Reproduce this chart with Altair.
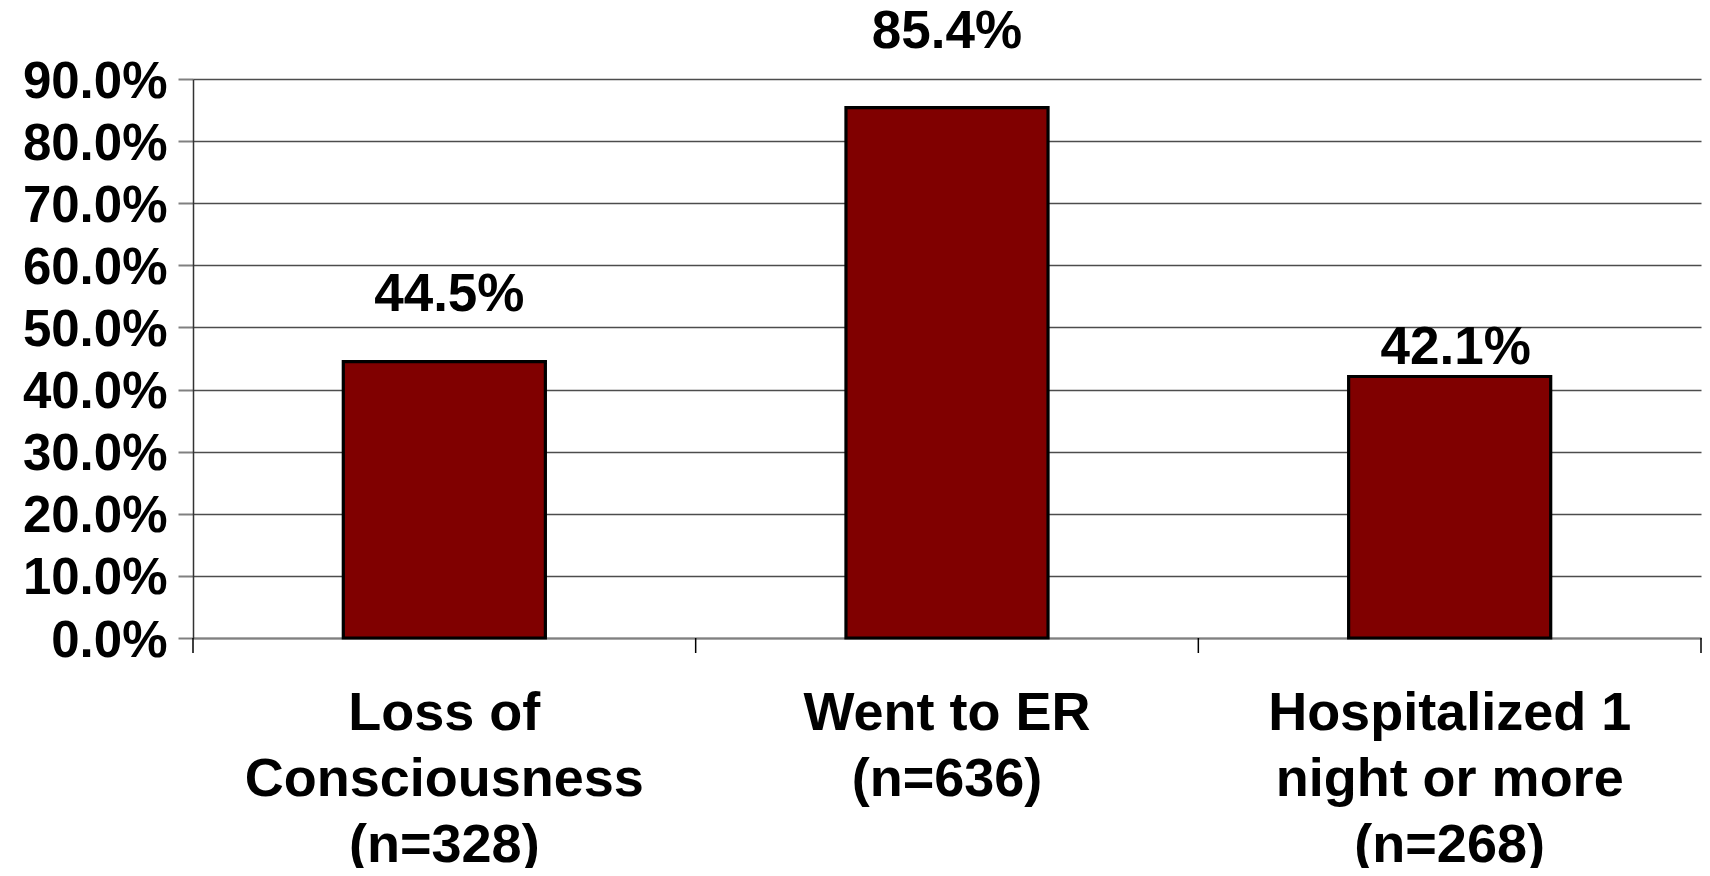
import altair as alt
import pandas as pd

# ---- data ----
categories = ["Loss of|Consciousness", "Went to ER", "Hospitalized 1|night or more"]
sample_sizes = [328, 636, 268]
shares = [0.445, 0.854, 0.421]
y_ticks = [0.0, 0.1, 0.2, 0.3, 0.4, 0.5, 0.6, 0.7, 0.8, 0.9]

labels = [f"{c}|(n={n})" for c, n in zip(categories, sample_sizes)]
df = pd.DataFrame({"cat": labels, "share": shares})

FONT = "Liberation Sans"
BAR = "#800000"

x_axis = alt.Axis(
    title=None,
    ticks=False,
    tickSize=0,
    domain=True,
    domainColor="#808080",
    domainWidth=2,
    labelExpr="split(datum.label, '|')",
    labelFont=FONT,
    labelFontWeight="bold",
    labelFontSize=54,
    labelColor="#000000",
    labelLineHeight=66,
    labelBaseline="alphabetic",
    labelPadding=91,
    labelAngle=0,
    labelLimit=0,
    grid=False,
)
x_scale = alt.Scale(paddingInner=0, paddingOuter=0)

y_axis = alt.Axis(
    title=None,
    values=y_ticks,
    format=".1%",
    grid=True,
    gridColor="#4d4d4d",
    gridWidth=1.3,
    domain=True,
    domainColor="#333333",
    domainWidth=1.5,
    ticks=True,
    tickSize=15,
    tickColor="#808080",
    tickWidth=2,
    labelFont=FONT,
    labelFontWeight="bold",
    labelFontSize=51,
    labelColor="#000000",
    labelPadding=11,
    labelBaseline="middle",
    labelOffset=3,
)
y_scale = alt.Scale(domain=[0, 0.9], nice=False, zero=True)

x_enc = alt.X("cat:N", sort=labels, scale=x_scale, axis=x_axis)
y_enc = alt.Y("share:Q", scale=y_scale, axis=y_axis)

base = alt.Chart(df)

bars = base.mark_bar(
    width=alt.RelativeBandSize(0.402),
    color=BAR,
    stroke="#000000",
    strokeWidth=3.2,
).encode(x=x_enc, y=y_enc)

label_style = [(5, -51), (0, -60), (6, -13)]
texts = []
for lab, (ddx, ddy) in zip(labels, label_style):
    texts.append(
        base.transform_filter(alt.datum.cat == lab)
        .mark_text(
            font=FONT,
            fontWeight="bold",
            fontSize=53,
            color="#000000",
            baseline="alphabetic",
            align="center",
            dx=ddx,
            dy=ddy,
        )
        .encode(x=x_enc, y=y_enc, text=alt.Text("share:Q", format=".1%"))
    )

# category separator ticks below the x axis
sep_left = base.mark_rule(color="#000000", strokeWidth=1.5).encode(
    x=alt.X("cat:N", sort=labels, bandPosition=0, scale=x_scale, axis=x_axis),
    y=alt.value(559),
    y2=alt.value(574),
)
sep_right = (
    base.transform_filter(alt.datum.cat == labels[-1])
    .mark_rule(color="#000000", strokeWidth=1.5)
    .encode(
        x=alt.X("cat:N", sort=labels, bandPosition=1, scale=x_scale, axis=x_axis),
        y=alt.value(559),
        y2=alt.value(574),
    )
)

chart = (
    alt.layer(bars, *texts, sep_left, sep_right)
    .properties(
        width=1508,
        height=559,
        autosize=alt.AutoSizeParams(type="none"),
        padding={"left": 185, "top": 71, "right": 1, "bottom": 230},
        background="#ffffff",
    )
    .configure_view(strokeWidth=0)
)

chart.save("out.html", embed_options={"renderer": "svg", "actions": False})
